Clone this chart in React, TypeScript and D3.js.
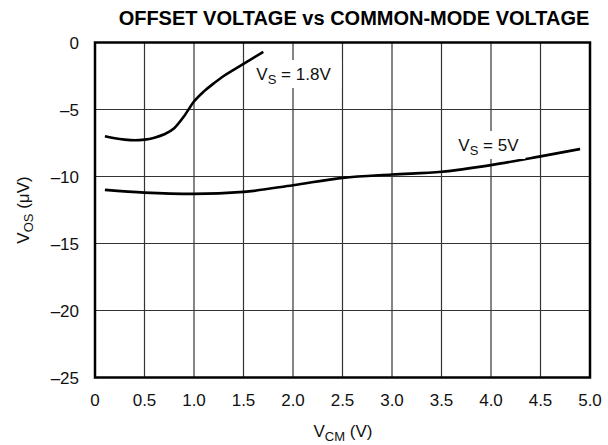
import React, { useEffect, useRef } from "react";
import * as d3 from "d3";

// V_S = 1.8V curve
const vcm18 = [0.1, 0.2, 0.3, 0.4, 0.5, 0.6, 0.7, 0.8, 0.9, 1.0, 1.1, 1.2, 1.3, 1.4, 1.5, 1.6, 1.7];
const vos18 = [-7.0, -7.15, -7.25, -7.3, -7.25, -7.1, -6.85, -6.4, -5.5, -4.4, -3.65, -3.05, -2.5, -2.05, -1.6, -1.15, -0.7];

// V_S = 5V curve
const vcm5 = [0.1, 0.5, 1.0, 1.5, 2.0, 2.5, 3.0, 3.5, 4.0, 4.5, 4.9];
const vos5 = [-11.0, -11.2, -11.3, -11.15, -10.65, -10.1, -9.85, -9.65, -9.15, -8.5, -7.95];

const xTicks = [0, 0.5, 1.0, 1.5, 2.0, 2.5, 3.0, 3.5, 4.0, 4.5, 5.0];
const yTicks = [0, -5, -10, -15, -20, -25];

const W = 608, H = 445;
const FONT = "'Liberation Sans', Arial, Helvetica, sans-serif";
const FS = 17;

export default function App() {
  const ref = useRef<SVGSVGElement>(null);

  useEffect(() => {
    const svg = d3.select(ref.current);
    svg.selectAll("*").remove();

    const left = 95, right = 590, top = 42.5, bottom = 377.5;
    const x = d3.scaleLinear().domain([0, 5]).range([left, right]);
    const y = d3.scaleLinear().domain([-25, 0]).range([bottom, top]);

    // grid
    const g = svg.append("g");
    g.selectAll(".vx").data(xTicks.slice(1, -1)).enter().append("line")
      .attr("x1", d => x(d)).attr("x2", d => x(d))
      .attr("y1", top).attr("y2", bottom)
      .attr("stroke", "#333").attr("stroke-width", 1.2);
    g.selectAll(".hy").data(yTicks.slice(1, -1)).enter().append("line")
      .attr("x1", left).attr("x2", right)
      .attr("y1", d => y(d)).attr("y2", d => y(d))
      .attr("stroke", "#333").attr("stroke-width", 1.2);

    // curves
    const line = d3.line<[number, number]>()
      .x(d => x(d[0])).y(d => y(d[1]))
      .curve(d3.curveMonotoneX);
    svg.append("path")
      .attr("d", line(vcm18.map((v, i) => [v, vos18[i]]))!)
      .attr("fill", "none").attr("stroke", "#000").attr("stroke-width", 2.6);
    svg.append("path")
      .attr("d", line(vcm5.map((v, i) => [v, vos5[i]]))!)
      .attr("fill", "none").attr("stroke", "#000").attr("stroke-width", 2.6);

    // frame
    svg.append("rect")
      .attr("x", left).attr("y", top)
      .attr("width", right - left).attr("height", bottom - top)
      .attr("fill", "none").attr("stroke", "#000").attr("stroke-width", 2.5);

    // labels with white background
    const label = (cx: number, cy: number, sub: string, rest: string, bw: number) => {
      svg.append("rect")
        .attr("x", cx - 3).attr("y", cy - 20)
        .attr("width", bw).attr("height", 28)
        .attr("fill", "#fff");
      const t = svg.append("text")
        .attr("x", cx).attr("y", cy)
        .attr("font-family", FONT).attr("font-size", FS).attr("fill", "#111");
      t.append("tspan").text("V");
      t.append("tspan").attr("font-size", 13).attr("dy", 4).text(sub);
      t.append("tspan").attr("dy", -4).text(rest);
    };
    label(x(1.63), 80, "S", " = 1.8V", 88);
    label(x(3.67), 151, "S", " = 5V", 70);

    // tick labels
    svg.selectAll(".xt").data(xTicks).enter().append("text")
      .attr("x", d => x(d)).attr("y", 406)
      .attr("text-anchor", "middle")
      .attr("font-family", FONT).attr("font-size", FS).attr("fill", "#111")
      .text(d => d === 0 ? "0" : d.toFixed(1));
    svg.selectAll(".yt").data(yTicks).enter().append("text")
      .attr("x", 79).attr("y", d => y(d) + 6)
      .attr("text-anchor", "end")
      .attr("font-family", FONT).attr("font-size", FS).attr("fill", "#111")
      .text(d => d === 0 ? "0" : "\u2013" + Math.abs(d));

    // title
    svg.append("text")
      .attr("x", 354).attr("y", 25)
      .attr("text-anchor", "middle")
      .attr("font-family", FONT).attr("font-size", 20).attr("font-weight", "bold")
      .attr("fill", "#000")
      .text("OFFSET VOLTAGE vs COMMON-MODE VOLTAGE");

    // x axis title
    const xt = svg.append("text")
      .attr("x", 343).attr("y", 437)
      .attr("text-anchor", "middle")
      .attr("font-family", FONT).attr("font-size", FS).attr("fill", "#111");
    xt.append("tspan").text("V");
    xt.append("tspan").attr("font-size", 13).attr("dy", 4).text("CM");
    xt.append("tspan").attr("dy", -4).text(" (V)");

    // y axis title
    const yt = svg.append("text")
      .attr("transform", "translate(29,210) rotate(-90)")
      .attr("text-anchor", "middle")
      .attr("font-family", FONT).attr("font-size", FS).attr("fill", "#111");
    yt.append("tspan").text("V");
    yt.append("tspan").attr("font-size", 13).attr("dy", 4).text("OS");
    yt.append("tspan").attr("dy", -4).text(" (\u03bcV)");
  }, []);

  return (
    <svg ref={ref} width={W} height={H}
      style={{ position: "absolute", left: 0, top: 0, background: "#fff" }} />
  );
}
